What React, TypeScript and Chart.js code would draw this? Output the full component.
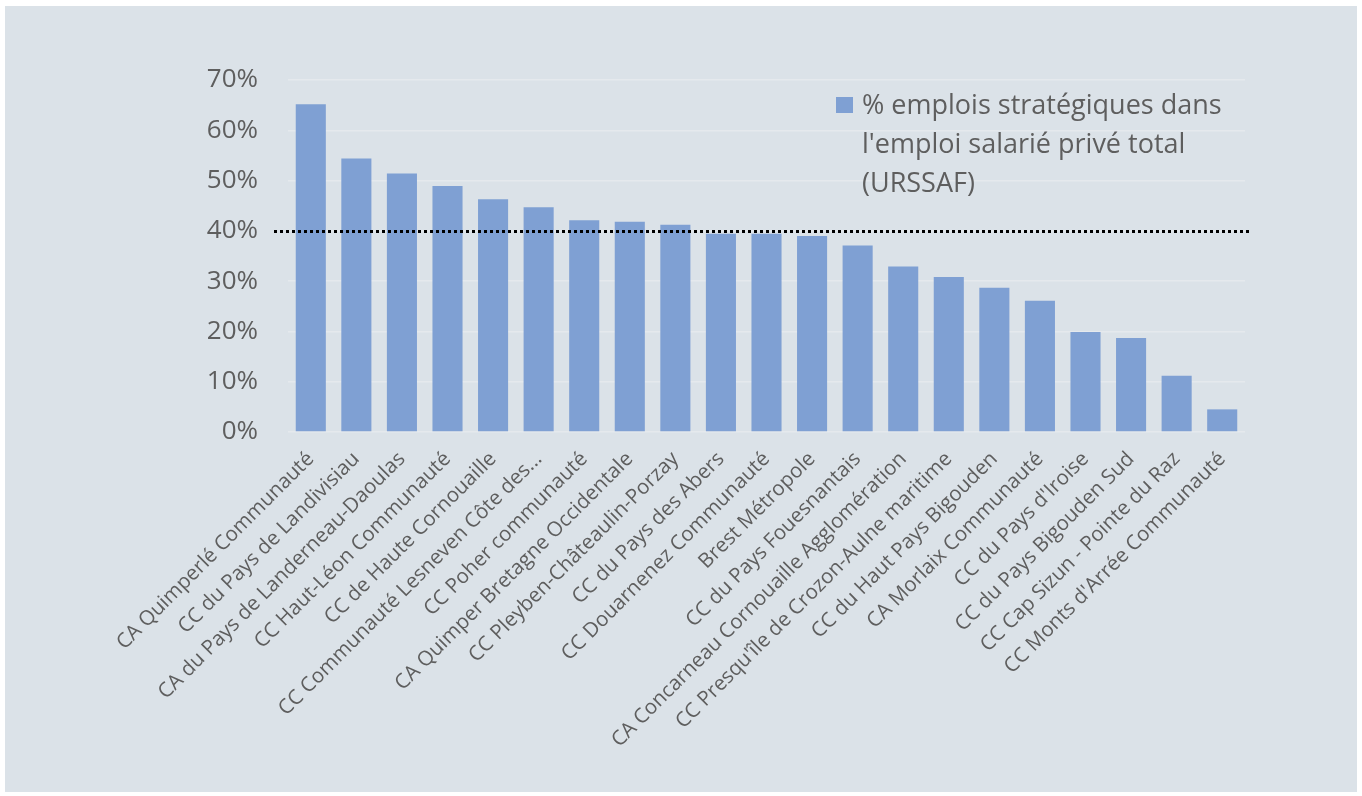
import React, { useEffect, useRef } from "react";
import { Chart, registerables } from "chart.js";

Chart.register(...registerables);

const categories: string[] = [
  "CA Quimperlé Communauté",
  "CC du Pays de Landivisiau",
  "CA du Pays de Landerneau-Daoulas",
  "CC Haut-Léon Communauté",
  "CC de Haute Cornouaille",
  "CC Communauté Lesneven Côte des...",
  "CC Poher communauté",
  "CA Quimper Bretagne Occidentale",
  "CC Pleyben-Châteaulin-Porzay",
  "CC du Pays des Abers",
  "CC Douarnenez Communauté",
  "Brest Métropole",
  "CC du Pays Fouesnantais",
  "CA Concarneau Cornouaille Agglomération",
  "CC Presqu'île de Crozon-Aulne maritime",
  "CC du Haut Pays Bigouden",
  "CA Morlaix Communauté",
  "CC du Pays d'Iroise",
  "CC du Pays Bigouden Sud",
  "CC Cap Sizun - Pointe du Raz",
  "CC Monts d'Arrée Communauté",
];

const shareValues: number[] = [
  65.2, 54.4, 51.4, 48.9, 46.3, 44.7, 42.1, 41.8, 41.2, 39.4, 39.4, 39.0, 37.1,
  32.9, 30.8, 28.7, 26.1, 19.9, 18.7, 11.2, 4.5,
];

const legendLines: string[] = [
  "% emplois stratégiques dans",
  "l'emploi salarié privé total",
  "(URSSAF)",
];

const yTickValues: number[] = [0, 10, 20, 30, 40, 50, 60, 70];
const thresholdValue = 40;

const FONT = "'Open Sans', 'Noto Sans', sans-serif";
const TEXT = "#5e5e5e";
const BAR = "#7fa0d3";
const BG = "#dbe2e8";

export default function App() {
  const ref = useRef<HTMLCanvasElement | null>(null);

  useEffect(() => {
    const canvas = ref.current;
    if (!canvas) return;

    const thresholdPlugin = {
      id: "thresholdLine",
      afterDatasetsDraw(chart: any) {
        const { ctx, chartArea, scales } = chart;
        const y = Math.round(scales.y.getPixelForValue(thresholdValue)) + 0.5;
        ctx.save();
        ctx.strokeStyle = "#000";
        ctx.lineWidth = 3;
        ctx.setLineDash([3, 3]);
        ctx.beginPath();
        ctx.moveTo(chartArea.left - 14, y);
        ctx.lineTo(chartArea.right + 6, y);
        ctx.stroke();
        ctx.restore();
      },
    };

    const legendPlugin = {
      id: "insideLegend",
      afterDraw(chart: any) {
        const { ctx, chartArea } = chart;
        const x0 = chartArea.right - 409;
        const y0 = chartArea.top + 17;
        ctx.save();
        ctx.fillStyle = BAR;
        ctx.fillRect(x0, y0, 17, 16);
        ctx.fillStyle = TEXT;
        ctx.font = `27px ${FONT}`;
        ctx.textBaseline = "middle";
        ctx.textAlign = "left";
        legendLines.forEach((line, i) => {
          ctx.fillText(line, x0 + 26, y0 + 9 + i * 39);
        });
        ctx.restore();
      },
    };

    const chart = new Chart(canvas, {
      type: "bar",
      data: {
        labels: categories,
        datasets: [
          {
            label: legendLines.join(" "),
            data: shareValues,
            backgroundColor: BAR,
            borderWidth: 0,
            barPercentage: 0.66,
            categoryPercentage: 1,
          },
        ],
      },
      options: {
        responsive: false,
        animation: false,
        devicePixelRatio: 1,
        layout: { padding: { top: 74, right: 112, left: 0, bottom: 0 } },
        plugins: {
          legend: { display: false },
          tooltip: { enabled: false },
        },
        scales: {
          x: {
            grid: { display: false, drawTicks: false },
            border: { display: false },
            ticks: {
              autoSkip: false,
              minRotation: 45,
              maxRotation: 45,
              padding: 15,
              color: TEXT,
              font: { family: FONT, size: 20.5 },
            },
            afterFit: (scale: any) => {
              scale.height = 360;
            },
          },
          y: {
            min: 0,
            max: 70,
            afterBuildTicks: (scale: any) => {
              scale.ticks = yTickValues.map((v) => ({ value: v }));
            },
            grid: { color: "#e5e9ed", lineWidth: 1.5, drawTicks: false },
            border: { display: false },
            ticks: {
              padding: 30,
              color: TEXT,
              font: { family: FONT, size: 26 },
              callback: (v: any) => `${v}%`,
            },
            afterFit: (scale: any) => {
              scale.width = 283;
            },
          },
        },
      },
      plugins: [thresholdPlugin, legendPlugin],
    });

    return () => chart.destroy();
  }, []);

  return (
    <div
      style={{
        position: "fixed",
        left: 0,
        top: 0,
        width: 1362,
        height: 796,
        background: "#ffffff",
      }}
    >
      <div
        style={{
          position: "absolute",
          left: 5,
          top: 6,
          width: 1352,
          height: 786,
          background: BG,
        }}
      >
        <canvas
          ref={ref}
          width={1352}
          height={786}
          style={{ width: 1352, height: 786, display: "block" }}
        />
      </div>
    </div>
  );
}
